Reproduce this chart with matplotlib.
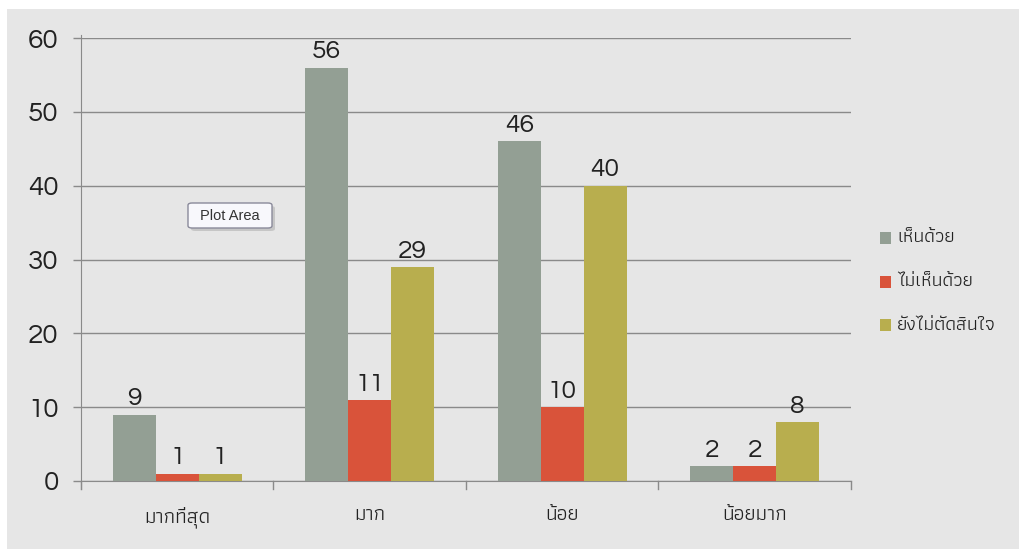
import matplotlib
matplotlib.use("Agg")
import matplotlib.pyplot as plt
import numpy as np
from matplotlib.patches import FancyBboxPatch, Rectangle

categories = ["มากที่สุด", "มาก", "น้อย", "น้อยมาก"]
series_names = ["เห็นด้วย", "ไม่เห็นด้วย", "ยังไม่ตัดสินใจ"]
agree = [9, 56, 46, 2]
disagree = [1, 11, 10, 2]
undecided = [1, 29, 40, 8]
yticks = [0, 10, 20, 30, 40, 50, 60]

colors = ["#939f94", "#d9533a", "#b8ae4e"]
thai = ["Athiti", "Noto Sans Thai", "Anuphan", "DejaVu Sans"]
num = ["Questrial", "Didact Gothic", "Poppins", "Montserrat", "DejaVu Sans"]

W, H = 1020, 549
fig = plt.figure(figsize=(W / 100, H / 100), dpi=100)
fig.patch.set_facecolor("white")
fig.patches.append(Rectangle((7 / W, -0.01), 1.02 - 7 / W, 1.01 - 9 / H, transform=fig.transFigure,
                             facecolor="#e6e6e6", edgecolor="none", zorder=-10))

ax = fig.add_axes([81 / W, 68 / H, (851 - 81) / W, (481 - 38) / H])
ax.set_facecolor("none")

x = np.arange(len(categories))
bw = 0.223
for i, (vals, c) in enumerate(zip([agree, disagree, undecided], colors)):
    pos = x + (i - 1) * bw
    ax.bar(pos, vals, width=bw, color=c, label=series_names[i], zorder=3)
    for p, v in zip(pos, vals):
        ax.annotate(str(v), (p, v), xytext=(0, 3), textcoords="offset points",
                    ha="center", va="bottom", fontsize=19, family=num,
                    color="#222222", zorder=4)

ax.set_xlim(-0.5, len(categories) - 0.5)
ax.set_ylim(0, 60)
ax.set_yticks(yticks)
ax.set_yticklabels([str(t) for t in yticks], family=num, fontsize=20, color="#222222")
ax.tick_params(axis="y", length=6, width=1, color="#8a8a8a", pad=10)
ax.grid(axis="y", color="#8a8a8a", linewidth=1, zorder=0)

ax.set_xticks(x)
ax.set_xticklabels(categories, family=thai, fontsize=15, color="#222222")
ax.tick_params(axis="x", length=0, pad=18)
for b in np.arange(-0.5, len(categories), 1.0):
    ax.plot([b, b], [0, -1.1], color="#8a8a8a", lw=1, clip_on=False, zorder=2)

for s in ["top", "right"]:
    ax.spines[s].set_visible(False)
ax.spines["left"].set_color("#8a8a8a")
ax.spines["bottom"].set_color("#8a8a8a")
ax.spines["left"].set_bounds(-1.1, 60.4)
ax.spines["left"].set_zorder(1)

# legend drawn at the reference positions
leg_y = [238, 282, 325]
for name, c, yy in zip(series_names, colors, leg_y):
    fig.patches.append(Rectangle((880 / W, 1 - (yy + 6) / H), 11 / W, 12 / H,
                                 transform=fig.transFigure, facecolor=c, edgecolor="none"))
    fig.text(897 / W, 1 - yy / H, name, ha="left", va="center", fontsize=14,
             family=thai, color="#222222")

# "Plot Area" tooltip
fig.patches.append(FancyBboxPatch((191 / W, 1 - 231 / H), 84 / W, 25 / H, transform=fig.transFigure,
                                  boxstyle="round,pad=0,rounding_size=0.004", facecolor="#a8a8a8",
                                  edgecolor="none", alpha=0.5, zorder=5))
fig.patches.append(FancyBboxPatch((188 / W, 1 - 228 / H), 84 / W, 25 / H, transform=fig.transFigure,
                                  boxstyle="round,pad=0,rounding_size=0.004", facecolor="#f8f8fc",
                                  edgecolor="#8a8a9a", linewidth=1, zorder=6))
fig.text(230 / W, 1 - 215.5 / H, "Plot Area", ha="center", va="center", fontsize=10.5,
         family=["Liberation Sans", "DejaVu Sans"], color="#333333", zorder=7)

fig.savefig("out.png", dpi=100, facecolor=fig.get_facecolor())
